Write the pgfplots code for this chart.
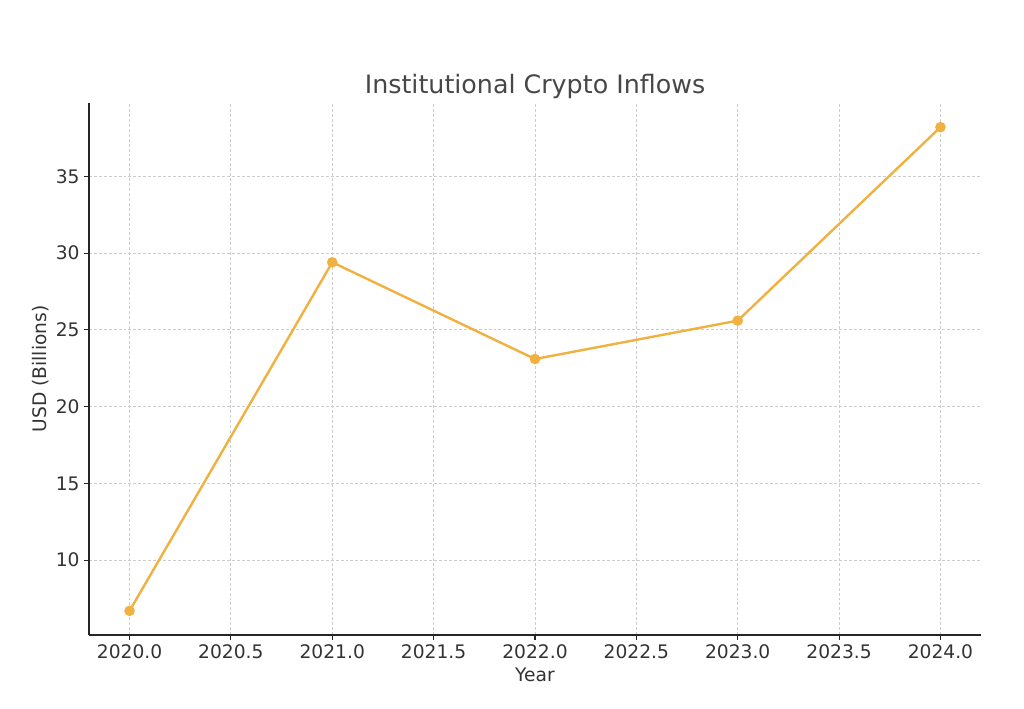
\documentclass[border=0pt]{standalone}
\usepackage{pgfplots}
\pgfplotsset{compat=1.18}
\usepackage{fontspec}
\setmainfont{DejaVu Sans}
\definecolor{lineor}{HTML}{F0B141}
\definecolor{txt}{HTML}{333333}
\begin{document}
\begin{tikzpicture}
\path[use as bounding box] (0,0) rectangle (768pt,531pt);
\begin{axis}[
  at={(66.75pt,54.75pt)}, anchor=south west,
  scale only axis, width=669pt, height=399pt,
  xmin=2019.8, xmax=2024.2, ymin=5.125, ymax=39.775,
  axis x line*=bottom, axis y line*=left,
  axis line style={color=black!85, line width=1pt},
  xtick={2020,2020.5,...,2024}, ytick={10,15,...,35},
  xticklabel={\pgfmathprintnumber[fixed,fixed zerofill,precision=1,1000 sep={}]{\tick}},
  /pgf/number format/assume math mode=true,
  scaled x ticks=false,
  tick style={color=black!85, line width=0.8pt},
  tick align=outside, major tick length=3.5pt,
  ticklabel style={font=\fontsize{14}{16}\selectfont, text=txt},
  grid=major, major grid style={color=black!20, dash pattern=on 2.2pt off 1.5pt, line width=0.6pt},
  title={Institutional Crypto Inflows},
  title style={font=\fontsize{19}{22}\selectfont, text=txt!90, at={(0.5,1)}, yshift=-6pt},
  xlabel={Year}, ylabel={USD (Billions)},
  label style={font=\fontsize{14}{16}\selectfont, text=txt},
  ylabel style={yshift=-2pt},
]
\addplot[color=lineor, line width=1.8pt, mark=*, mark size=3pt, mark options={fill=lineor, draw=lineor}]
  coordinates {(2020,6.7) (2021,29.4) (2022,23.1) (2023,25.6) (2024,38.2)};
\end{axis}
\end{tikzpicture}
\end{document}
